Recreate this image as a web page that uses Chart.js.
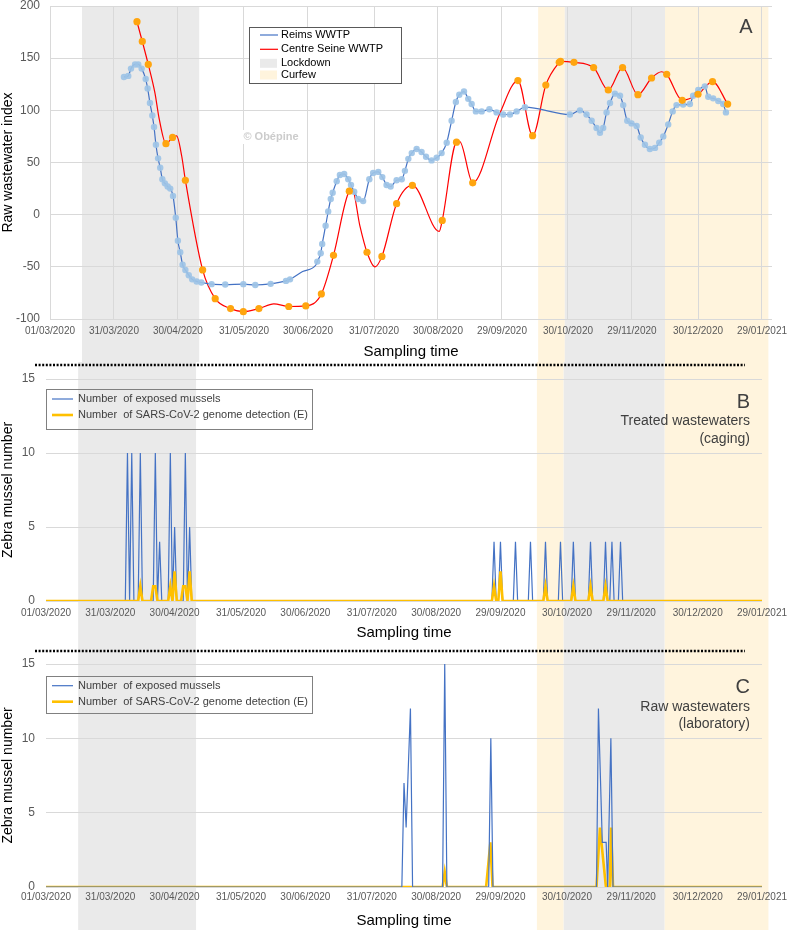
<!DOCTYPE html>
<html>
<head>
<meta charset="utf-8">
<script src="https://cdn.jsdelivr.net/npm/chart.js@4.4.1/dist/chart.umd.min.js"></script>
<style>
  html, body { margin: 0; padding: 0; background: #fff; }
  #wrap { position: relative; width: 789px; height: 930px; }
  .panel { position: absolute; left: 0; width: 789px; }
  #panelA { top: 0; height: 362px; }
  #panelB { top: 362px; height: 283px; }
  #panelC { top: 645px; height: 285px; }
</style>
</head>
<body>
<div id="wrap">
  <div class="panel" id="panelA"><canvas id="chartA"></canvas></div>
  <div class="panel" id="panelB"><canvas id="chartB"></canvas></div>
  <div class="panel" id="panelC"><canvas id="chartC"></canvas></div>
</div>
<script>
"use strict";
// all x values are days counted from 01/03/2020
const tickDays = [0, 30, 60, 91, 121, 152, 182, 212, 243, 273, 304, 334];
const tickLabels = ["01/03/2020", "31/03/2020", "30/04/2020", "31/05/2020", "30/06/2020", "31/07/2020",
  "30/08/2020", "29/09/2020", "30/10/2020", "29/11/2020", "30/12/2020", "29/01/2021"];

// [start, end] of the shaded periods
const lockdowns = [[15, 70], [241.5, 288.5]];
const curfews = [[229, 241.5], [288.5, 337]];

// panel A - Reims WWTP
const reimsDay = [34.7, 36.7, 38.0, 39.9, 41.4, 43.0, 44.9, 45.8, 46.9, 48.0,
  48.8, 49.7, 50.7, 51.7, 52.7, 53.9, 55.2, 56.4, 57.7, 59.0,
  60.0, 61.1, 62.2, 63.5, 65.1, 66.7, 68.8, 71.0, 75.8, 82.2,
  90.7, 96.3, 103.5, 110.7, 112.6, 118.5, 124.8, 125.4, 127.0, 127.7,
  129.3, 130.5, 131.7, 132.6, 134.5, 136.0, 138.0, 139.9, 141.2, 142.7,
  144.6, 146.9, 149.8, 151.6, 154.0, 155.9, 157.9, 159.8, 162.6, 165.0,
  166.5, 168.1, 169.7, 172.0, 174.3, 176.4, 179.0, 181.4, 183.7, 186.1,
  188.4, 190.4, 192.0, 194.2, 196.2, 197.8, 199.8, 202.5, 206.1, 209.5,
  212.6, 215.8, 218.9, 222.8, 243.9, 248.6, 251.7, 254.1, 256.4, 258.0,
  259.5, 261.1, 262.7, 265.0, 267.4, 268.9, 270.8, 272.8, 275.2, 277.1,
  279.1, 281.4, 283.8, 285.8, 287.7, 290.0, 292.1, 293.9, 297.0, 300.2,
  301.7, 304.1, 307.2, 308.8, 311.1, 313.5, 315.8, 317.1];
const reimsIndex = [132, 133, 140, 144, 144, 140, 130, 121, 107, 95,
  84, 67, 54, 45, 34, 30, 27, 25, 18, -3,
  -25, -36, -48, -53, -58, -62, -64, -65, -66.6, -67,
  -66.6, -67.4, -66.3, -63.5, -62, -54.5, -48, -45, -37, -28,
  -10.6, 3, 15, 21, 32, 38, 39, 34, 28.5, 22,
  15, 13, 34, 40, 41, 36, 28.5, 27, 33, 34,
  42, 53.5, 59, 63, 60, 55.5, 52, 54.5, 59, 69,
  90, 108, 115, 118, 111, 106, 99, 99, 101, 98,
  96, 96, 99, 103, 96, 100, 96, 90, 83, 78.5,
  83, 98, 107, 116, 114, 105, 90, 87.5, 85, 74,
  67, 63, 64, 69, 75, 86.5, 99, 105, 105.5, 106,
  114, 119.5, 123, 113, 111.5, 109, 106, 98];
const reimsUnmarked = [118.5, 124.8];

// panel A - Centre Seine WWTP, measured points (orange)
const seineDay = [40.8, 43.3, 46.1, 54.4, 57.5, 63.5, 71.6, 77.5, 84.7, 90.7,
  98.0, 112.0, 120.0, 127.3, 133.0, 140.4, 148.7, 155.7, 162.6, 170.0,
  184.0, 190.7, 198.3, 219.5, 226.4, 232.6, 238.9, 239.5, 245.8, 255.0,
  261.9, 268.6, 275.8, 282.2, 289.3, 296.6, 304.0, 310.8, 317.9];
const seineIndex = [185, 166, 144, 68, 74, 33, -53, -80.5, -90, -93,
  -90, -88, -87.5, -76, -39, 22.5, -36, -40, 10.5, 28,
  -5.5, 69.5, 30.5, 128.5, 75.7, 124.3, 146, 147, 146, 141,
  119.5, 141, 115, 131, 134.6, 109.6, 115.4, 127.6, 106];
const seineCurveDay = [49.2, 51.3, 59.4, 61.8, 105, 141.8, 145.4, 152.4, 182.6, 192.2, 211, 286.9];
const seineCurveIndex = [117, 91, 75.5, 56, -85.5, 24, -11, -50, -16, 70, 97, 137];

// panel B - treated wastewaters (caging)
const cagingDay = [0, 37, 38, 39, 40, 41, 43, 44, 45, 49,
  50, 51, 52, 53, 54, 57, 58, 59, 60, 61,
  63, 64, 65, 66, 67, 68, 208, 209, 210, 211,
  212, 213, 218, 219, 220, 225, 226, 227, 232, 233,
  234, 239, 240, 241, 245, 246, 247, 253, 254, 255,
  260, 261, 262, 263, 264, 265, 267, 268, 269, 334];
const cagingExposed = [0, 0, 10, 0, 10, 0, 0, 10, 0, 0,
  0, 10, 0, 4, 0, 0, 10, 0, 5, 0,
  0, 0, 10, 0, 5, 0, 0, 4, 0, 0,
  4, 0, 0, 4, 0, 0, 4, 0, 0, 4,
  0, 0, 4, 0, 0, 4, 0, 0, 4, 0,
  0, 4, 0, 0, 4, 0, 0, 4, 0, 0];
const cagingDetected = [0, 0, 0, 0, 0, 0, 0, 1, 0, 0,
  1, 1, 0, 0, 0, 0, 1, 0, 2, 0,
  0, 1, 1, 0, 2, 0, 0, 1, 0, 0,
  2, 0, 0, 0, 0, 0, 0, 0, 0, 1,
  0, 0, 0, 0, 0, 1, 0, 0, 1, 0,
  0, 1, 0, 0, 0, 0, 0, 0, 0, 0];

// panel C - raw wastewaters (laboratory)
const labExposedDay = [0, 166, 167, 168, 170, 171, 185, 186, 187, 206.5, 207.5, 208.5,
  256.8, 257.7, 259.5, 261.3, 262, 263.5, 264.5, 334];
const labExposed = [0, 0, 7, 4, 12, 0, 0, 15, 0, 0, 10, 0, 0, 12, 3, 3, 0, 10, 0, 0];
const labDetectedDay = [0, 185, 186, 187, 205.3, 207.3, 208.3, 256.8, 258.4, 261.2, 263, 263.6, 264.5, 334];
const labDetected = [0, 0, 1, 0, 0, 3, 0, 0, 4, 0, 0, 4, 0, 0];

const LOCKDOWN_COLOR = "#EAEAEA";
const CURFEW_COLOR = "#FFF4DD";
const BLUE = "#4472C4";
const YELLOW = "#FFC000";
const GRID = "#D9D9D9";
const TICK = "#595959";
const FAM = '"Liberation Sans", Arial, sans-serif';

Chart.defaults.font.family = FAM;
Chart.defaults.animation = false;

function pts(xs, ys) {
  return xs.map((x, i) => ({ x: x, y: ys[i] }));
}

// shaded lockdown / curfew periods, run down to the bottom of each canvas
const bandsPlugin = {
  id: "bands",
  beforeDraw(chart, args, opts) {
    const ctx = chart.ctx;
    const x = chart.scales.x;
    const top = opts.fromTop ? chart.chartArea.top : 0;
    ctx.save();
    const paint = (list, color) => list.forEach(([a, b]) => {
      const x0 = x.getPixelForValue(a);
      const x1 = x.getPixelForValue(b);
      ctx.fillStyle = color;
      ctx.fillRect(x0, top, x1 - x0, chart.height - top);
    });
    paint(curfews, CURFEW_COLOR);
    paint(lockdowns, LOCKDOWN_COLOR);
    ctx.restore();
  }
};

// boxed legend, texts, dotted separator
const decoPlugin = {
  id: "deco",
  afterDraw(chart, args, opts) {
    const ctx = chart.ctx;
    ctx.save();
    if (opts.dots) {
      ctx.strokeStyle = "#000";
      ctx.lineWidth = 2.5;
      ctx.setLineDash([2, 1.6]);
      ctx.beginPath();
      ctx.moveTo(opts.dots.x0, opts.dots.y);
      ctx.lineTo(opts.dots.x1, opts.dots.y);
      ctx.stroke();
      ctx.setLineDash([]);
    }
    (opts.texts || []).forEach(t => {
      ctx.font = t.font;
      ctx.textAlign = t.align || "left";
      ctx.textBaseline = "middle";
      if (t.bg) {
        const w = ctx.measureText(t.text).width;
        ctx.fillStyle = t.bg;
        ctx.fillRect(t.x - w / 2 - 2, t.y - 7, w + 4, 14);
      }
      ctx.fillStyle = t.color;
      ctx.fillText(t.text, t.x, t.y);
    });
    const lg = opts.legend;
    if (lg) {
      if (lg.fill) {
        ctx.fillStyle = lg.fill;
        ctx.fillRect(lg.x, lg.y, lg.w, lg.h);
      }
      ctx.strokeStyle = lg.border;
      ctx.lineWidth = 1;
      ctx.strokeRect(lg.x + 0.5, lg.y + 0.5, lg.w, lg.h);
      ctx.font = "11px " + FAM;
      ctx.textAlign = "left";
      ctx.textBaseline = "middle";
      lg.items.forEach((it, i) => {
        const y = lg.rows[i];
        if (it.box) {
          ctx.fillStyle = it.color;
          ctx.fillRect(lg.sx0, y - 4.5, lg.sx1 - lg.sx0 - 1, 9);
        } else {
          ctx.strokeStyle = it.color;
          ctx.lineWidth = it.width;
          ctx.beginPath();
          ctx.moveTo(lg.sx0, y);
          ctx.lineTo(lg.sx1, y);
          ctx.stroke();
        }
        ctx.fillStyle = lg.textColor;
        ctx.fillText(it.text, lg.tx, y);
      });
    }
    ctx.restore();
  }
};

function xAxis(max, showGrid, tickPad, titlePad, height) {
  return {
    type: "linear", min: 0, max: max,
    grid: { display: showGrid, color: GRID, drawTicks: false },
    border: { display: false },
    afterBuildTicks(s) { s.ticks = tickDays.map(v => ({ value: v })); },
    ticks: {
      autoSkip: false, maxRotation: 0, color: TICK, font: { size: 10 }, padding: tickPad,
      callback: (v, i) => tickLabels[i]
    },
    title: { display: true, text: "Sampling time", color: "#000", font: { size: 15 }, padding: { top: 0, bottom: titlePad } },
    afterFit(s) { s.height = height; s.paddingLeft = 0; s.paddingRight = 0; }
  };
}

function yAxis(min, max, step, title, width, pad) {
  return {
    min: min, max: max,
    ticks: { stepSize: step, color: TICK, font: { size: 12 }, padding: pad },
    grid: { color: GRID, drawTicks: false },
    border: { display: false },
    title: { display: true, text: title, color: "#000", font: { size: 14 }, padding: { top: 0, bottom: 0 } },
    afterFit(s) { s.width = width; s.paddingTop = 0; s.paddingBottom = 0; }
  };
}

const seineCurve = pts(seineDay, seineIndex).concat(pts(seineCurveDay, seineCurveIndex)).sort((a, b) => a.x - b.x);

new Chart(document.getElementById("chartA"), {
  type: "line",
  data: {
    datasets: [
      {
        label: "Centre Seine WWTP samples", data: pts(seineDay, seineIndex), showLine: false,
        pointRadius: 3.6, pointBackgroundColor: "rgb(255,165,15)", pointBorderWidth: 0, order: 0
      },
      {
        label: "Reims WWTP", data: pts(reimsDay, reimsIndex), borderColor: BLUE, borderWidth: 1.2,
        cubicInterpolationMode: "monotone",
        pointRadius: c => (c.raw && reimsUnmarked.includes(c.raw.x)) ? 0 : 3.2,
        pointBackgroundColor: "rgba(157,195,230,0.92)", pointBorderWidth: 0, order: 1
      },
      {
        label: "Centre Seine WWTP", data: seineCurve, borderColor: "#FF0000", borderWidth: 1.2,
        cubicInterpolationMode: "monotone", pointRadius: 0, order: 2
      }
    ]
  },
  options: {
    responsive: true, maintainAspectRatio: false,
    layout: { padding: { top: 6, right: 17, bottom: 0, left: 0 } },
    scales: {
      x: xAxis(338.7, true, 6, 1, 43),
      y: yAxis(-100, 200, 50, "Raw wastewater index", 50, 10)
    },
    plugins: {
      legend: { display: false }, tooltip: { enabled: false },
      bands: { fromTop: true },
      deco: {
        texts: [
          { text: "A", x: 746, y: 27, font: "20px " + FAM, color: "#404040", align: "center" },
          { text: "© Obépine", x: 271, y: 137, font: "bold 11px " + FAM, color: "#CCCCCC", align: "center", bg: "#fff" }
        ],
        legend: {
          x: 249, y: 27, w: 152, h: 56, fill: "#fff", border: "#595959", textColor: "#000",
          sx0: 260, sx1: 278, tx: 281, rows: [35, 49.3, 63.3, 75],
          items: [
            { text: "Reims WWTP", color: BLUE, width: 1.2 },
            { text: "Centre Seine WWTP", color: "#FF0000", width: 1.2 },
            { text: "Lockdown", color: LOCKDOWN_COLOR, box: true },
            { text: "Curfew", color: CURFEW_COLOR, box: true }
          ]
        }
      }
    }
  },
  plugins: [bandsPlugin, decoPlugin]
});

function musselChart(id, exposed, detected, exposedOnTop, pads, deco) {
  return new Chart(document.getElementById(id), {
    type: "line",
    data: {
      datasets: [
        {
          label: "Number  of exposed mussels", data: exposed, borderColor: BLUE, borderWidth: 1.2,
          pointRadius: 0, order: exposedOnTop ? 0 : 1
        },
        {
          label: "Number  of SARS-CoV-2 genome detection (E)", data: detected, borderColor: YELLOW, borderWidth: 2.6,
          pointRadius: 0, order: exposedOnTop ? 1 : 0
        }
      ]
    },
    options: {
      responsive: true, maintainAspectRatio: false,
      layout: { padding: { top: pads.top, right: 27, bottom: 0, left: 0 } },
      scales: {
        x: xAxis(334, false, pads.tick, pads.title, pads.xh),
        y: yAxis(0, 15, 5, "Zebra mussel number", 46, 11)
      },
      plugins: { legend: { display: false }, tooltip: { enabled: false }, bands: { fromTop: false }, deco: deco }
    },
    plugins: [bandsPlugin, decoPlugin]
  });
}

function musselLegend(y, h, rows) {
  return {
    x: 46, y: y, w: 266, h: h, border: "#808080", textColor: "#404040",
    sx0: 52, sx1: 73, tx: 78, rows: rows,
    items: [
      { text: "Number  of exposed mussels", color: BLUE, width: 1.2 },
      { text: "Number  of SARS-CoV-2 genome detection (E)", color: YELLOW, width: 2.6 }
    ]
  };
}

musselChart("chartB", pts(cagingDay, cagingExposed), pts(cagingDay, cagingDetected), false,
  { top: 17, tick: 6, title: 3, xh: 44 },
  {
    dots: { x0: 35, x1: 745, y: 3 },
    texts: [
      { text: "B", x: 750, y: 40, font: "20px " + FAM, color: "#404040", align: "right" },
      { text: "Treated wastewaters", x: 750, y: 59, font: "14px " + FAM, color: "#404040", align: "right" },
      { text: "(caging)", x: 750, y: 77, font: "14px " + FAM, color: "#404040", align: "right" }
    ],
    legend: musselLegend(27, 40, [37, 53])
  });

musselChart("chartC", pts(labExposedDay, labExposed), pts(labDetectedDay, labDetected), true,
  { top: 19, tick: 4, title: 0, xh: 43 },
  {
    dots: { x0: 35, x1: 745, y: 6 },
    texts: [
      { text: "C", x: 750, y: 42, font: "20px " + FAM, color: "#404040", align: "right" },
      { text: "Raw wastewaters", x: 750, y: 62, font: "14px " + FAM, color: "#404040", align: "right" },
      { text: "(laboratory)", x: 750, y: 79, font: "14px " + FAM, color: "#404040", align: "right" }
    ],
    legend: musselLegend(31, 37, [40.7, 56.7])
  });
</script>
</body>
</html>
